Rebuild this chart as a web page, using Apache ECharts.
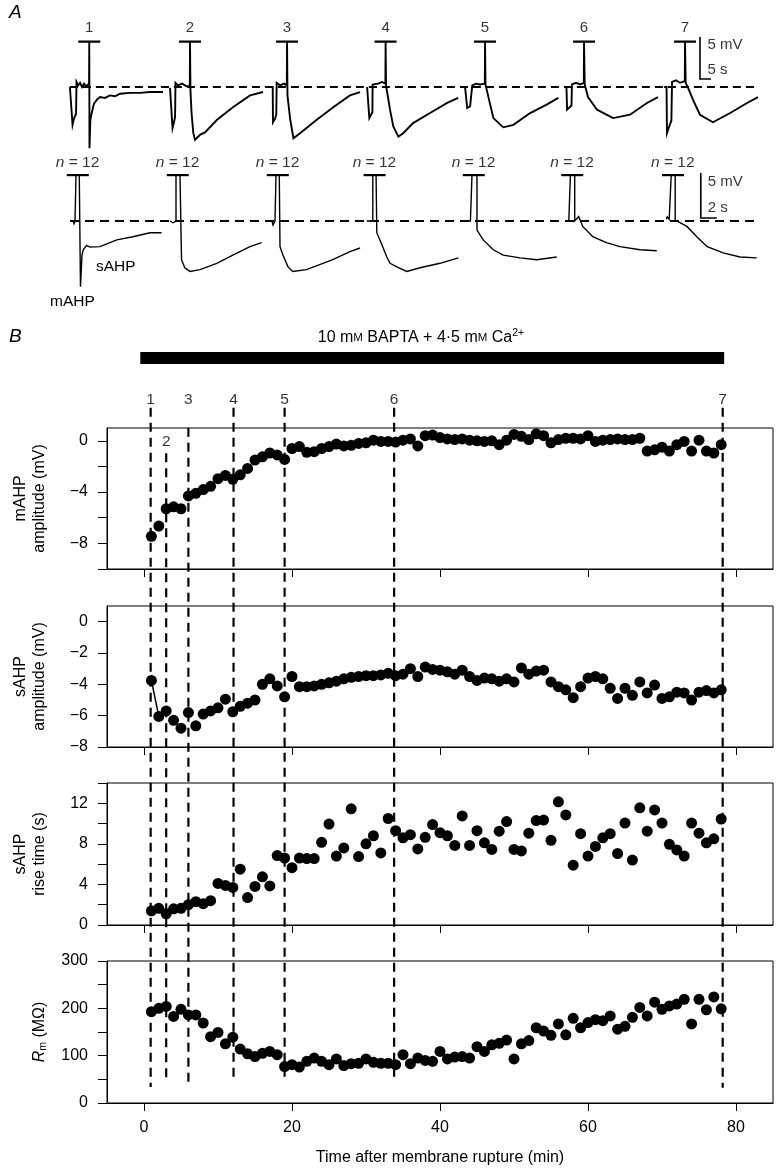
<!DOCTYPE html>
<html><head><meta charset="utf-8">
<script src="https://cdn.jsdelivr.net/npm/echarts@6/dist/echarts.min.js"></script>
<style>html,body{margin:0;padding:0;background:#fff}#c{width:779px;height:1176px}</style>
</head><body><div id="c"></div>
<script>
// ---------------- Panel B data ----------------
const TIME = [1,2,3,4,5,6,7,8,9,10,11,12,13,14,15,16,17,18,19,20,21,22,23,24,25,26,27,28,29,30,31,32,33,34,35,36,37,38,39,40,41,42,43,44,45,46,47,48,49,50,51,52,53,54,55,56,57,58,59,60,61,62,63,64,65,66,67,68,69,70,71,72,73,74,75,76,77,78];
const MAHP_AMP = [-7.45,-6.65,-5.3,-5.15,-5.3,-4.3,-4.1,-3.8,-3.55,-2.95,
 -2.7,-3.0,-2.65,-2.15,-1.5,-1.25,-0.95,-1.1,-1.45,-0.6,
 -0.45,-0.9,-0.85,-0.6,-0.45,-0.25,-0.4,-0.35,-0.2,-0.15,
 0.05,-0.05,-0.05,-0.1,0.05,0.15,-0.4,0.4,0.45,0.25,
 0.15,0.1,0.15,0.05,0.0,-0.05,0.0,-0.3,0.05,0.5,
 0.35,0.1,0.55,0.4,-0.15,0.1,0.2,0.2,0.15,0.4,
 -0.05,0.05,0.1,0.15,0.1,0.1,0.2,-0.8,-0.7,-0.5,
 -0.8,-0.3,-0.05,-0.8,0.05,-0.8,-0.95,-0.3];
const SAHP_AMP = [-3.75,-6.05,-5.7,-6.3,-6.8,-5.8,-6.65,-5.9,-5.7,-5.5,
 -4.95,-5.75,-5.4,-5.2,-5.0,-4.0,-3.65,-4.1,-4.8,-3.5,
 -4.15,-4.15,-4.1,-4.0,-3.9,-3.8,-3.65,-3.55,-3.5,-3.45,
 -3.45,-3.4,-3.3,-3.45,-3.35,-3.0,-3.5,-2.9,-3.05,-3.1,
 -3.2,-3.35,-3.1,-3.5,-3.75,-3.6,-3.65,-3.8,-3.65,-3.85,
 -2.95,-3.35,-3.15,-3.1,-3.85,-4.15,-4.35,-4.85,-4.15,-3.6,
 -3.5,-3.65,-4.25,-4.9,-4.25,-4.7,-3.85,-4.55,-4.05,-4.9,
 -4.8,-4.5,-4.55,-5.0,-4.5,-4.4,-4.55,-4.35];
const SAHP_RISE = [1.4,1.65,1.1,1.6,1.65,2.0,2.3,2.1,2.4,4.1,
 3.9,3.7,5.5,2.7,3.8,4.75,3.85,6.85,6.6,5.65,
 6.6,6.55,6.55,8.15,9.95,6.8,7.6,11.45,6.75,8.0,
 8.8,7.1,10.5,9.3,8.6,8.9,7.5,8.65,9.9,9.1,
 8.8,7.85,10.75,7.85,9.3,8.1,7.45,9.25,10.2,7.45,
 7.3,9.05,10.3,10.35,8.35,12.15,10.85,5.9,9.0,6.8,
 7.75,8.6,9.0,7.05,10.05,6.4,11.55,9.25,11.35,10.05,
 7.95,7.4,6.8,10.05,9.05,8.1,8.5,10.45];
const RM = [193,200,204,183,198,186,186,169,140,149,
 125,139,114,104,98,105,109,102,77,81,
 76,88,95,88,81,93,79,83,84,93,
 86,84,84,81,102,83,95,90,88,109,
 93,97,98,95,119,109,123,126,133,93,
 125,132,159,152,143,167,144,179,159,170,
 176,174,184,156,162,181,202,184,213,198,
 205,209,219,167,219,197,224,199];
const X_TICKS = [0,20,40,60,80];
const EPOCH_TIMES = [0.9,3.0,6.0,12.1,19.0,33.8,78.2];
const EPOCH_LABELS = ['1','2','3','4','5','6','7'];
const EPOCH_DASH_START = [11.4,17.3,14,11.4,11.4,11.4,11.4];
const EPOCH_DASH_END = [99.6,99.1,99.1,99.0,99.0,99.0,99.7];
const BAPTA_START = -0.5, BAPTA_END = 78.4;

// ---------------- Panel A data (s, mV relative to spike) ----------------
const TOP_SPIKE_T = [13.3,59.1,103.2,148.0,193.2,238.2,284.1];
const TOP_TRACES = [
 [[-8.8,0],[-7.9,0.1],[-7.6,-4.5],[-7.0,-3.8],[-6.0,-3.2],[-5.8,0.6],[-5.1,0.2],[-4.2,0.5],[-3.3,0],[-2.4,0.4],[-1.5,0.1],[-0.1,0.4],[0,5.4],[0.1,-7.3],[0.5,-3.9],[1.2,-3.0],[2.1,-2.0],[3.5,-1.5],[4.9,-1.2],[7.1,-1.3],[9.4,-1.0],[11.7,-1.1],[14.0,-0.8],[18.5,-0.7],[23.0,-0.7],[27.6,-0.6],[33.5,-0.6]],
 [[-9.1,-0.1],[-8.2,-0.1],[-7.95,-4.9],[-7.3,-4.2],[-6.8,-3.6],[-6.6,0.5],[-5.5,0.2],[-3.6,0.4],[-1.8,0.1],[-0.1,0.1],[0,5.4],[0.2,-0.4],[0.7,-3.1],[1.5,-5.5],[2.3,-6.3],[4.5,-5.7],[6.8,-5.4],[12.3,-3.9],[19.5,-2.4],[27.3,-1.0],[33.2,-0.6]],
 [[-8.5,0],[-6.5,0],[-6.4,-4.2],[-5.5,-3.8],[-4.9,-3.3],[-4.7,0.5],[-3.2,0.2],[-1.4,0.4],[-0.1,0.2],[0,5.4],[0.2,-1.0],[1.4,-3.8],[2.9,-6.1],[5.9,-5.5],[13.5,-3.9],[21,-2.4],[28.6,-1.0],[33.2,-0.6]],
 [[-8.4,0],[-7.5,0],[-7.4,-3.7],[-6.6,-3.3],[-6.0,-3.0],[-5.9,0.3],[-3.4,0.4],[-1.6,0.6],[-0.1,0.4],[0,5.4],[0.2,0.2],[2.0,-2.7],[3.5,-4.7],[5.8,-5.9],[8,-5.5],[12.5,-4.3],[20.2,-3.1],[28,-1.9],[33,-1.3]],
 [[-9.1,0],[-8.2,0],[-8.1,-2.5],[-6.8,-2.3],[-5.9,-2.1],[-5.8,0.2],[-4.1,0.4],[-2.3,0.3],[-0.1,0.4],[0,5.4],[0.2,0.3],[1.8,-1.5],[3.8,-3.7],[8.3,-4.8],[12.9,-4.5],[20.5,-3.1],[28,-2.1],[33.3,-1.3]],
 [[-9.1,0],[-8.0,0],[-7.7,-2.7],[-6.8,-2.5],[-5.7,-2.2],[-5.5,0.3],[-3.6,0.5],[-1.8,0.3],[-0.1,0.5],[0,5.4],[0.3,0.3],[1.8,-1.2],[5.9,-2.7],[13.2,-3.7],[20.9,-3.3],[28.6,-1.9],[33.6,-1.2]],
 [[-9.5,0],[-8.4,0],[-8.2,-5.5],[-7.3,-4.8],[-6.2,-4.0],[-5.9,0.6],[-4.1,0.8],[-2.3,0.5],[-0.1,0.7],[0,5.4],[0.3,0.5],[1.4,-0.1],[3.6,-1.5],[6.8,-3.3],[12.7,-4.2],[20.5,-3.1],[28.2,-1.9],[33.2,-1.2]]
];
const TOP_LABELS = ['1','2','3','4','5','6','7'];
const TOP_CLIP_MV = 5.4, TOP_BAR_HALF = 5;
const TOP_BASE = [4.5, 315.9];
const TOP_SCALE = {t: 290.9, v: 0.95, dv: 5, dt: 5};

const BOT_SPIKE_T = [2.0,14.5,27.0,39.1,51.5,63.8,76.4];
const BOT_TRACES = [
 [[-0.75,0],[-0.375,0],[-0.25,-0.3],[-0.125,0],[0,0],[0,5.1],[0.41,5.1],[0.56,-7.3],[0.75,-3.8],[0.9,-3.2],[1.34,-2.7],[1.75,-2.9],[3.0,-2.85],[5.1,-2.1],[7.1,-1.75],[9.25,-1.3],[10.7,-1.3]],
 [[-0.75,0],[-0.5,0],[-0.375,-0.2],[-0.25,0],[0,0],[0,5.1],[0.5,5.1],[0.69,-4.3],[1.1,-5.2],[1.75,-5.6],[3.0,-5.4],[5.1,-4.7],[7.1,-3.8],[9.25,-2.85],[10.7,-2.4]],
 [[-0.875,0],[-0.5,0],[-0.375,-0.45],[-0.125,0],[0,0],[0,5.1],[0.41,5.1],[0.5,-2.85],[0.875,-3.8],[1.5,-5.1],[2.1,-5.6],[3.8,-5.4],[7.1,-4.3],[9.25,-3.4],[10.5,-3.0]],
 [[-0.75,0],[-0.6,0.2],[-0.34,0],[0,0],[0,5.1],[0.41,5.1],[0.5,-1.3],[1.16,-2.7],[1.75,-4.0],[2.16,-4.7],[3.0,-5.1],[4.25,-5.6],[5.9,-5.2],[8.4,-4.7],[10.7,-4.1]],
 [[-0.6,0],[-0.4,-0.2],[-0.2,0],[0,0],[0,5.1],[0.625,5.1],[0.625,-1.0],[1.4,-2.1],[2.66,-3.2],[3.9,-3.8],[6.0,-4.1],[8.1,-4.3],[10.6,-4.0]],
 [[-0.6,0],[-0.46,0.2],[-0.2,0],[0,0],[0,5.1],[0.54,5.1],[0.54,0],[1.04,0.5],[1.54,-0.6],[2.8,-1.75],[4.5,-2.4],[6.2,-2.85],[8.7,-3.2],[10.8,-3.3]],
 [[-0.6,0.2],[-0.5,0.45],[-0.25,0.2],[0,0.1],[0,5.1],[0.5,5.1],[0.5,0.1],[0.7,-0.1],[1.96,-0.6],[3.2,-1.75],[4.5,-2.85],[6.5,-3.55],[8.6,-4.0],[10.7,-4.1]]
];
const BOT_CLIP_MV = 5.1, BOT_BAR = [-1.15, 1.6];
const BOT_BASE = [1.25, 87];
const BOT_SCALE = {t: 80.1, v: 0.33, dv: 5, dt: 2};

// ---------------- build ----------------
const FONT = '"Liberation Sans", Arial, Helvetica, sans-serif';
const FS = 16;
const series = [];
function seg(gi, pts, w, dash, z) {
  series.push({type:'line', xAxisIndex:gi, yAxisIndex:gi, data:pts, symbol:'none', silent:true,
    animation:false, clip:false, lineStyle:{color:'#000', width:w, type:dash||'solid', cap:'butt', join:'miter', opacity:1}, z:z||3});
}
function txt(gi, pts, pos, fontSize, rich) {
  series.push({type:'scatter', xAxisIndex:gi, yAxisIndex:gi, symbolSize:1, silent:true, animation:false, clip:false,
    itemStyle:{color:'rgba(0,0,0,0)'},
    data: pts.map(p => ({value:[p[0],p[1]], name:p[2]})),
    label:{show:true, position:pos, distance:0, formatter:'{b}', color:'#000', fontSize:fontSize, fontFamily:FONT, rich:rich||{}}, z:5});
}

// Panel A top row
TOP_TRACES.forEach((tr,i) => {
  const s = TOP_SPIKE_T[i];
  seg(0, tr.map(p => [s+p[0], p[1]]), 1.9);
  seg(0, [[s-TOP_BAR_HALF, TOP_CLIP_MV],[s+TOP_BAR_HALF, TOP_CLIP_MV]], 2.2);
});
seg(0, [[TOP_BASE[0],0],[TOP_BASE[1],0]], 1.8, [8,5], 2);
txt(0, TOP_SPIKE_T.map((s,i)=>[s, 7.0, TOP_LABELS[i]]), 'inside', 15);
seg(0, [[TOP_SCALE.t, TOP_SCALE.v+TOP_SCALE.dv],[TOP_SCALE.t, TOP_SCALE.v],[TOP_SCALE.t+TOP_SCALE.dt, TOP_SCALE.v]], 1.6);
txt(0, [[TOP_SCALE.t+3.2, 5.0, '5 mV'],[TOP_SCALE.t+3.2, 2.0, '5 s']], 'right', 15);

// Panel A bottom row
BOT_TRACES.forEach((tr,i) => {
  const s = BOT_SPIKE_T[i];
  seg(1, tr.map(p => [s+p[0], p[1]]), 1.4);
  seg(1, [[s+BOT_BAR[0], BOT_CLIP_MV],[s+BOT_BAR[1], BOT_CLIP_MV]], 2.2);
});
seg(1, [[BOT_BASE[0],0],[BOT_BASE[1],0]], 1.8, [9,6], 2);
txt(1, BOT_SPIKE_T.map(s=>[s+0.2, 6.45, '{i|n} = 12']), 'inside', 15.5, {i:{fontStyle:'italic', fontSize:15.5, fontFamily:FONT}});
seg(1, [[BOT_SCALE.t, BOT_SCALE.v+BOT_SCALE.dv],[BOT_SCALE.t, BOT_SCALE.v],[BOT_SCALE.t+BOT_SCALE.dt, BOT_SCALE.v]], 1.6);
txt(1, [[BOT_SCALE.t+0.8, 4.4, '5 mV'],[BOT_SCALE.t+0.8, 1.45, '2 s']], 'right', 15);

// Panel B scatter
const PANELS = [MAHP_AMP, SAHP_AMP, SAHP_RISE, RM];
PANELS.forEach((arr,k) => {
  series.push({type:'scatter', xAxisIndex:2+k, yAxisIndex:2+k, symbol:'circle', symbolSize:11, silent:true, animation:false,
    itemStyle:{color:'#000', opacity:1}, data: TIME.map((t,i)=>[t, arr[i]]), z:4});
});
seg(3, [[TIME[0], SAHP_AMP[0]],[TIME[1], SAHP_AMP[1]]], 1.5);

// overlay: epoch dashed lines, labels, BAPTA bar
EPOCH_TIMES.forEach((t,i) => seg(6, [[t, EPOCH_DASH_START[i]],[t, EPOCH_DASH_END[i]]], 2.2, [9,6], 6));
txt(6, EPOCH_TIMES.map((t,i)=>[t, i===1 ? 15.8 : 10.4, EPOCH_LABELS[i]]), 'inside', 15.5);
seg(6, [[BAPTA_START, 4.94],[BAPTA_END, 4.94]], 12, 'solid', 6);

// axes
const grids = [
  {left:60, width:704, top:19.8, height:142.8},
  {left:60, width:704, top:158, height:144},
  {left:107, right:6, top:428, height:141, show:true, borderColor:'#000', borderWidth:1},
  {left:107, right:6, top:606, height:141, show:true, borderColor:'#000', borderWidth:1},
  {left:107, right:6, top:783, height:142, show:true, borderColor:'#000', borderWidth:1},
  {left:107, right:6, top:961, height:142, show:true, borderColor:'#000', borderWidth:1},
  {left:107, right:6, top:320, height:770}
];
const hidden = (gi, min, max, inv) => ({type:'value', gridIndex:gi, min, max, show:false, inverse:!!inv});
const minus = v => v < 0 ? '\u2212' + (-v) : String(v);
function bx(gi, last) {
  return {type:'value', gridIndex:gi, min:-5, max:85,
    axisLine:{show:true, onZero:false, lineStyle:{color:'#000', width:1}},
    axisTick:{show:true, length:8, customValues:X_TICKS, lineStyle:{color:'#000', width:1}},
    axisLabel:{show:last, customValues:X_TICKS, margin:17, fontSize:FS, color:'#000', fontFamily:FONT},
    splitLine:{show:false},
    name: last ? 'Time after membrane rupture (min)' : '', nameLocation:'middle', nameGap:47,
    nameTextStyle:{fontSize:FS, color:'#000', fontFamily:FONT}};
}
function by(gi, min, max, ticks, labs, name, rich) {
  return {type:'value', gridIndex:gi, min, max,
    axisLine:{show:true, onZero:false, lineStyle:{color:'#000', width:1}},
    axisTick:{show:true, length:9, customValues:ticks, lineStyle:{color:'#000', width:1}},
    axisLabel:{customValues:labs, margin:19, fontSize:FS, color:'#000', fontFamily:FONT, formatter:minus},
    splitLine:{show:false},
    name, nameLocation:'middle', nameRotate:90, nameGap:58,
    nameTextStyle:{fontSize:FS, color:'#000', fontFamily:FONT, lineHeight:19, rich:rich||{}}};
}
const option = {
  animation:false,
  backgroundColor:'#fff',
  textStyle:{fontFamily:FONT},
  grid: grids,
  xAxis: [hidden(0,0,320), hidden(1,0,88), bx(2,false), bx(3,false), bx(4,false), bx(5,true), hidden(6,-5,85)],
  yAxis: [hidden(0,-9,8), hidden(1,-9,7),
    by(2,-10,1,[-10,-8,-6,-4,-2,0],[-8,-4,0],'mAHP\namplitude (mV)'),
    by(3,-8,1,[-8,-6,-4,-2,0],[-8,-6,-4,-2,0],'sAHP\namplitude (mV)'),
    by(4,0,14,[0,2,4,6,8,10,12,14],[0,4,8,12],'sAHP\nrise time (s)'),
    by(5,0,300,[0,50,100,150,200,250,300],[0,100,200,300],'{it|R}{sub|m}{n| (M\u03A9)}',
      {it:{fontStyle:'italic', fontSize:FS, fontFamily:FONT}, sub:{fontSize:10.5, fontFamily:FONT, verticalAlign:'bottom', padding:[8,0,0,0]}, n:{fontSize:FS, fontFamily:FONT}}),
    hidden(6,0,100,true)],
  series,
  graphic:[
    {type:'text', left:9, top:3, style:{text:'A', fontSize:19, fontStyle:'italic', fontFamily:FONT, fill:'#000'}},
    {type:'text', left:9, top:327, style:{text:'B', fontSize:19, fontStyle:'italic', fontFamily:FONT, fill:'#000'}},
    {type:'text', left:96, top:259, style:{text:'sAHP', fontSize:15.5, fontFamily:FONT, fill:'#000'}},
    {type:'text', left:50, top:294, style:{text:'mAHP', fontSize:15.5, fontFamily:FONT, fill:'#000'}},
    {type:'text', x:421, y:338, style:{text:'10 m{sc|M} BAPTA + 4\u00B75 m{sc|M} Ca{sup|2+}', fontSize:16, fontFamily:FONT, fill:'#000',
      align:'center', verticalAlign:'middle', lineHeight:20,
      rich:{sc:{fontSize:11.5, fontFamily:FONT, lineHeight:20}, sup:{fontSize:10.5, fontFamily:FONT, verticalAlign:'top', lineHeight:20}}}}
  ]
};
const chart = echarts.init(document.getElementById('c'), null, {renderer:'canvas'});
chart.setOption(option);
</script></body></html>
